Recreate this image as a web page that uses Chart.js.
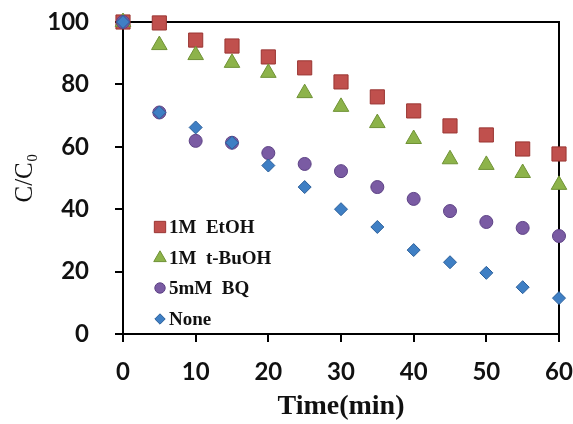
<!DOCTYPE html>
<html>
<head>
<meta charset="utf-8">
<script src="https://cdn.jsdelivr.net/npm/chart.js@4.4.0/dist/chart.umd.min.js"></script>
<style>
html, body { margin: 0; padding: 0; background: #fff; }
</style>
</head>
<body>
<canvas id="chart" width="573" height="424"></canvas>
<script>
// Data
const times = [0, 5, 10, 15, 20, 25, 30, 35, 40, 45, 50, 55, 60];
const etohValues = [100, 99.7, 94.2, 92.3, 88.8, 85.3, 80.8, 76, 71.5, 66.7, 63.8, 59.3, 57.7];
const buohValues = [100, 92.6, 89.4, 86.9, 83.7, 77.2, 72.8, 67.6, 62.5, 56, 54.2, 51.6, 47.8];
const bqValues = [100, 71, 61.9, 61.3, 58, 54.5, 52.2, 47.1, 43.3, 39.4, 35.9, 34, 31.4];
const noneValues = [100, 71, 66.2, 61.3, 54, 47.1, 40, 34.3, 26.9, 23, 19.6, 15, 11.5];
const seriesLabels = ['1M  EtOH', '1M  t-BuOH', '5mM  BQ', 'None'];
const xTicks = [0, 10, 20, 30, 40, 50, 60];
const yTicks = [0, 20, 40, 60, 80, 100];

const toPoints = vals => vals.map((v, i) => ({ x: times[i], y: v }));

function dataset(label, vals, style, radius, fill, border, order) {
    return {
        label: label,
        data: toPoints(vals),
        pointStyle: style,
        pointRadius: radius,
        pointHoverRadius: radius,
        backgroundColor: fill,
        borderColor: border,
        pointBorderWidth: 1,
        showLine: false,
        clip: false,
        order: order
    };
}

// box around the plot area (top and right edges too)
const framePlugin = {
    id: 'frame',
    beforeDatasetsDraw(chart) {
        const a = chart.chartArea;
        const ctx = chart.ctx;
        ctx.save();
        ctx.strokeStyle = '#000';
        ctx.lineWidth = 2;
        ctx.strokeRect(a.left, a.top, a.right - a.left, a.bottom - a.top);
        ctx.restore();
    }
};

// vertical legend inside the plot, lower left
const legendPlugin = {
    id: 'innerLegend',
    afterDraw(chart) {
        const ctx = chart.ctx;
        const rows = [227, 258, 288, 319];
        ctx.save();
        chart.data.datasets.forEach((ds, i) => {
            const y = rows[i];
            ctx.fillStyle = ds.backgroundColor;
            ctx.strokeStyle = ds.borderColor;
            ctx.lineWidth = 1;
            Chart.helpers.drawPoint(ctx, { pointStyle: ds.pointStyle, radius: ds.pointRadius * 0.8, rotation: 0, borderWidth: 1 }, 160, y);
            ctx.fillStyle = '#111';
            ctx.font = 'bold 19px "Liberation Serif", "Times New Roman", serif';
            ctx.textBaseline = 'middle';
            ctx.textAlign = 'left';
            ctx.fillText(ds.label, 169, y + 1);
        });
        ctx.restore();
    }
};

const tickFont = { family: 'Lato, "Open Sans", sans-serif', size: 24, weight: 'bold' };

new Chart(document.getElementById('chart').getContext('2d'), {
    type: 'scatter',
    data: {
        datasets: [
            dataset(seriesLabels[0], etohValues, 'rect', 10, '#c0504d', '#9a3532', 3),
            dataset(seriesLabels[1], buohValues, 'triangle', 9, '#8db34a', '#6f9235', 2),
            dataset(seriesLabels[2], bqValues, 'circle', 6.5, '#7a5ba3', '#5d4285', 1),
            dataset(seriesLabels[3], noneValues, 'rectRot', 6.5, '#3f7fc4', '#2b5f9a', 0)
        ]
    },
    options: {
        responsive: false,
        animation: false,
        layout: { autoPadding: false, padding: { left: 0, top: 22, right: 14, bottom: 0 } },
        plugins: {
            legend: { display: false },
            tooltip: { enabled: false }
        },
        scales: {
            x: {
                type: 'linear',
                min: 0,
                max: 60,
                afterFit: s => { s.height = 90; s.paddingLeft = 0; s.paddingRight = 0; },
                afterBuildTicks: s => { s.ticks = xTicks.map(v => ({ value: v })); },
                border: { display: true, color: '#000', width: 2 },
                grid: { display: true, drawOnChartArea: false, drawTicks: true, tickLength: 8, color: '#000', lineWidth: 2 },
                ticks: { color: '#111', font: tickFont, padding: 16, maxRotation: 0 },
                title: {
                    display: true,
                    text: 'Time(min)',
                    color: '#111',
                    font: { family: '"Liberation Serif", "Times New Roman", serif', size: 28, weight: 'bold' },
                    padding: { top: 0, bottom: 0 }
                }
            },
            y: {
                type: 'linear',
                min: 0,
                max: 100,
                afterFit: s => { s.width = 123; s.paddingTop = 0; s.paddingBottom = 0; },
                afterBuildTicks: s => { s.ticks = yTicks.map(v => ({ value: v })); },
                border: { display: true, color: '#000', width: 2 },
                grid: { display: true, drawOnChartArea: false, drawTicks: true, tickLength: 8, color: '#000', lineWidth: 2 },
                ticks: { color: '#111', font: tickFont, padding: 26 },
                title: {
                    display: true,
                    text: 'C/C\u2080',
                    color: '#111',
                    font: { family: '"Liberation Serif", "Times New Roman", serif', size: 25, weight: 'normal' },
                    padding: { top: 10, bottom: 0 }
                }
            }
        }
    },
    plugins: [framePlugin, legendPlugin]
});
</script>
</body>
</html>
